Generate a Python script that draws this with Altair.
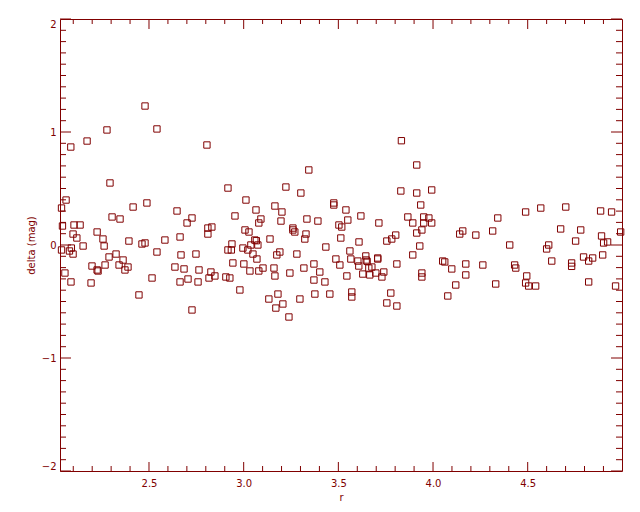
import altair as alt
import pandas as pd

MAROON = "#800000"

r = [2.479, 2.278, 2.542, 2.173, 2.087, 2.806, 3.833,
     2.294, 2.917, 2.062, 2.038, 2.489, 2.416, 2.648, 2.954, 2.305, 2.347, 2.727, 2.701, 2.043, 2.104,
     2.136, 2.811, 2.832, 2.811, 2.226, 2.099, 2.119, 2.257, 2.394, 2.584, 2.664, 2.463, 2.479, 2.263,
     2.152, 2.038, 2.080, 2.090, 2.099, 2.938, 2.917, 2.935, 2.996, 2.542, 2.326, 2.289, 2.363, 2.748,
     2.669, 2.056, 2.088, 2.194, 2.199, 2.226, 2.231, 2.268, 2.342, 2.373, 2.389, 2.516, 2.447, 2.637,
     2.685, 2.764, 2.706, 2.664, 2.759, 2.827, 2.848, 2.817, 2.906, 2.927, 2.943, 3.001, 2.980, 2.727,
     3.914, 3.344, 3.223, 3.302, 3.830, 3.914, 3.993, 3.012, 3.476, 3.476, 3.935, 3.065, 3.165, 3.202,
     3.540, 3.091, 3.080, 3.197, 3.334, 3.392, 3.550, 3.619, 3.714, 3.867, 3.893, 3.951, 3.978, 3.951,
     3.993, 3.007, 3.028, 3.260, 3.260, 3.270, 3.503, 3.518, 3.329, 3.323, 3.139, 3.059, 3.067, 3.038,
     3.075, 3.022, 3.049, 3.070, 3.513, 3.609, 3.756, 3.782, 3.803, 3.914, 3.941, 3.930, 3.434, 3.191,
     3.175, 3.281, 3.561, 3.893, 3.033, 3.080, 3.102, 3.160, 3.165, 3.244, 3.318, 3.371, 3.402, 3.371,
     3.429, 3.487, 3.508, 3.566, 3.545, 3.603, 3.608, 3.645, 3.647, 3.652, 3.661, 3.677, 3.629, 3.666,
     3.698, 3.708, 3.708, 3.740, 3.730, 3.809, 3.941, 3.941, 3.133, 3.181, 3.207, 3.170, 3.239, 3.297,
     3.376, 3.455, 3.571, 3.571, 3.777, 3.756, 3.809,
     4.489, 4.569, 4.701, 4.885, 4.943, 4.342, 4.141, 4.157, 4.226, 4.315, 4.674, 4.780, 4.991, 4.890,
     4.901, 4.922, 4.753, 4.405, 4.611, 4.600, 4.627, 4.051, 4.062, 4.099, 4.173, 4.173, 4.263, 4.431,
     4.437, 4.732, 4.732, 4.795, 4.822, 4.843, 4.896, 4.120, 4.078, 4.331, 4.495, 4.489, 4.505, 4.542,
     4.822, 4.964]

delta = [1.230, 1.018, 1.027, 0.920, 0.867, 0.885, 0.923,
         0.549, 0.504, 0.398, 0.327, 0.372, 0.336, 0.301, 0.257, 0.248, 0.230, 0.239, 0.195, 0.168, 0.177,
         0.177, 0.150, 0.159, 0.097, 0.115, 0.097, 0.062, 0.053, 0.035, 0.044, 0.071, 0.009, 0.018, -0.009,
         -0.009, -0.044, -0.053, -0.027, -0.080, 0.009, -0.044, -0.044, -0.027, -0.062, -0.080, -0.106, -0.133, -0.080,
         -0.088, -0.248, -0.327, -0.336, -0.186, -0.221, -0.230, -0.177, -0.177, -0.221, -0.195, -0.292, -0.442, -0.195,
         -0.212, -0.221, -0.301, -0.327, -0.327, -0.239, -0.274, -0.292, -0.283, -0.292, -0.159, -0.168, -0.398, -0.575,
         0.708, 0.664, 0.513, 0.460, 0.478, 0.460, 0.487, 0.398, 0.372, 0.354, 0.354, 0.310, 0.345, 0.292,
         0.310, 0.230, 0.195, 0.212, 0.230, 0.212, 0.221, 0.257, 0.195, 0.248, 0.195, 0.248, 0.239, 0.195,
         0.195, 0.133, 0.115, 0.150, 0.133, 0.115, 0.177, 0.159, 0.097, 0.053, 0.053, 0.044, 0.038, 0.000,
         0.000, -0.044, -0.080, -0.124, 0.062, 0.027, 0.035, 0.053, 0.088, 0.106, 0.133, -0.009, -0.018, -0.062,
         -0.088, -0.080, -0.053, -0.088, -0.230, -0.230, -0.204, -0.204, -0.274, -0.248, -0.204, -0.168, -0.239, -0.310,
         -0.327, -0.124, -0.177, -0.124, -0.274, -0.142, -0.186, -0.097, -0.133, -0.145, -0.204, -0.195, -0.257, -0.265,
         -0.248, -0.115, -0.124, -0.239, -0.283, -0.168, -0.248, -0.283, -0.478, -0.434, -0.522, -0.558, -0.637, -0.478,
         -0.434, -0.434, -0.416, -0.460, -0.425, -0.513, -0.540,
         0.292, 0.327, 0.336, 0.301, 0.292, 0.239, 0.097, 0.124, 0.088, 0.124, 0.142, 0.133, 0.115, 0.080,
         0.018, 0.027, 0.035, 0.000, 0.000, -0.035, -0.142, -0.142, -0.150, -0.212, -0.168, -0.265, -0.177, -0.177,
         -0.204, -0.159, -0.189, -0.106, -0.142, -0.115, -0.088, -0.354, -0.451, -0.345, -0.274, -0.336, -0.363, -0.363,
         -0.327, -0.363]

x_major = [2.5, 3.0, 3.5, 4.0, 4.5]
x_minor = [2.1, 2.2, 2.3, 2.4, 2.6, 2.7, 2.8, 2.9, 3.1, 3.2, 3.3, 3.4, 3.6, 3.7, 3.8, 3.9,
           4.1, 4.2, 4.3, 4.4, 4.6, 4.7, 4.8, 4.9]
y_major = [-2, -1, 0, 1, 2]
y_minor = [-1.9, -1.8, -1.7, -1.6, -1.5, -1.4, -1.3, -1.2, -1.1,
           -0.9, -0.8, -0.7, -0.6, -0.5, -0.4, -0.3, -0.2, -0.1,
           0.1, 0.2, 0.3, 0.4, 0.5, 0.6, 0.7, 0.8, 0.9,
           1.1, 1.2, 1.3, 1.4, 1.5, 1.6, 1.7, 1.8, 1.9]

W, H = 562, 452
FONT = "DejaVu Sans"

df = pd.DataFrame({"r": r, "delta": delta})
xscale = alt.Scale(domain=[2.03, 4.998], nice=False, zero=False)
yscale = alt.Scale(domain=[-2, 2], nice=False, zero=False)

xaxis = alt.Axis(values=x_major, format=".1f", title="r", tickSize=0, domain=False,
                 grid=False, labelPadding=7, titlePadding=4)
yaxis = alt.Axis(values=y_major, format="d", title="delta (mag)", tickSize=0, domain=False,
                 grid=False, labelPadding=4, labelFlush=True, titlePadding=5)

points = alt.Chart(df).mark_point(
    shape="square", filled=False, color=MAROON, size=40, strokeWidth=1, opacity=1
).encode(
    x=alt.X("r:Q", scale=xscale, axis=xaxis),
    y=alt.Y("delta:Q", scale=yscale, axis=yaxis),
)


def xticks(vals, length, top):
    d = pd.DataFrame({"r": vals})
    if top:
        enc = dict(y=alt.value(0), y2=alt.value(length))
    else:
        enc = dict(y=alt.value(H), y2=alt.value(H - length))
    return alt.Chart(d).mark_rule(color=MAROON, strokeWidth=1).encode(
        x=alt.X("r:Q", scale=xscale, axis=xaxis), **enc)


def yticks(vals, length, left):
    d = pd.DataFrame({"delta": vals})
    if left:
        enc = dict(x=alt.value(0), x2=alt.value(length))
    else:
        enc = dict(x=alt.value(W), x2=alt.value(W - length))
    return alt.Chart(d).mark_rule(color=MAROON, strokeWidth=1).encode(
        y=alt.Y("delta:Q", scale=yscale, axis=yaxis), **enc)


chart = alt.layer(
    points,
    xticks(x_major, 10, True), xticks(x_major, 9, False),
    xticks(x_minor, 5, True), xticks(x_minor, 5, False),
    yticks(y_major, 11, True), yticks(y_major, 11, False),
    yticks(y_minor, 6, True), yticks(y_minor, 6, False),
).properties(
    width=W, height=H,
    autosize=alt.AutoSizeParams(type="none"),
    padding={"left": 52, "top": 11, "right": 10, "bottom": 33},
    background="white",
).configure_view(
    stroke=MAROON, strokeWidth=1
).configure_axis(
    labelFont=FONT, titleFont=FONT, labelFontSize=10, titleFontSize=10,
    labelColor=MAROON, titleColor=MAROON, titleFontWeight="normal",
)

chart.save("out.html", embed_options={"renderer": "svg", "actions": False})
